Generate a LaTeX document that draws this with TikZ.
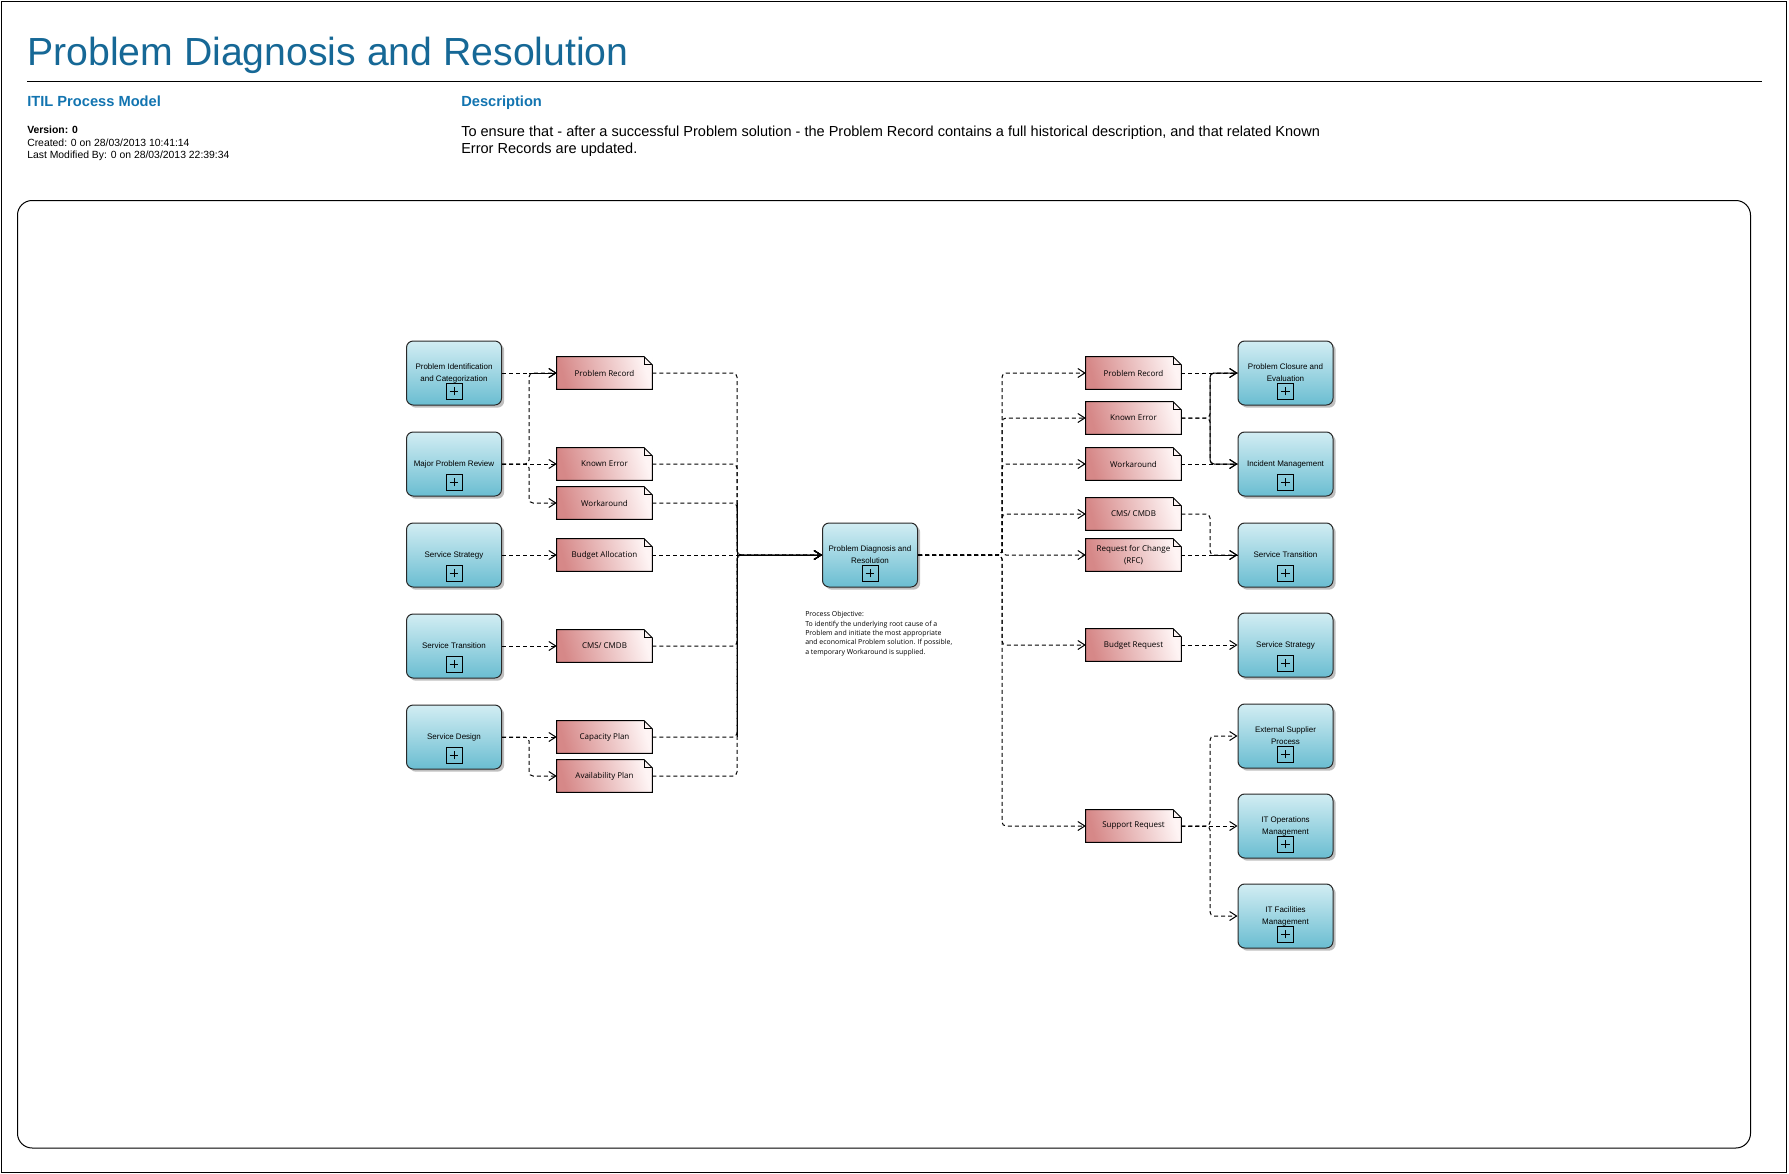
\documentclass[tikz,border=0pt]{standalone}
\usepackage{fontspec}
\setmainfont{Liberation Sans}
\newfontfamily\docfont{Open Sans}
\usetikzlibrary{positioning,arrows.meta,shadows}
\definecolor{TitleBlue}{RGB}{22,104,150}
\definecolor{HeadBlue}{RGB}{18,116,176}
\definecolor{ProcTop}{RGB}{210,237,243}
\definecolor{ProcBottom}{RGB}{106,189,209}
\definecolor{DocLeft}{RGB}{214,136,136}
\definecolor{DocRight}{RGB}{254,244,244}
\definecolor{EdgeGray}{RGB}{40,40,40}

\begin{document}
\begin{tikzpicture}[
    x=0.75pt,
    y=-0.75pt,
    >={Straight Barb[length=5.25pt,width=6.75pt]},
    proc/.style={
        draw=EdgeGray,
        line width=0.75pt,
        rounded corners=5pt,
        align=center,
        font=\fontsize{6}{9}\selectfont,
        minimum width=71.25pt,
        minimum height=48pt,
        inner sep=1pt,
        top color=ProcTop,
        bottom color=ProcBottom,
        drop shadow={shadow xshift=2pt,shadow yshift=-2pt,fill=black!50,opacity=0.5}
    },
    doc/.style={
        align=center,
        font=\docfont\fontsize{6}{8.5}\selectfont,
        minimum width=71.25pt,
        minimum height=24pt,
        inner sep=1pt,
        left color=DocLeft,
        right color=DocRight,
        shading angle=105
    },
    flow/.style={
        ->,
        line width=0.75pt,
        dash pattern=on 3pt off 2.25pt,
        rounded corners=3pt
    },
    trunk/.style={
        line width=0.75pt,
        rounded corners=3pt
    }
]

\useasboundingbox (0,0) rectangle (1789,1174);
\draw[line width=0.75pt] (1.5,1.5) rectangle (1786,1172);

% header
\node[anchor=base west, inner sep=0, text=TitleBlue,
    font=\fontsize{29.4}{35}\selectfont] (title) at (27,65) {Problem Diagnosis and Resolution};
\draw[line width=0.75pt] (27,81) -- (1762,81);
\node[anchor=base west, inner sep=0, text=HeadBlue,
    font=\bfseries\fontsize{11}{13}\selectfont] (model) at (27,106) {ITIL Process Model};
\node[anchor=base west, inner sep=0, text=HeadBlue,
    font=\bfseries\fontsize{11}{13}\selectfont] (deschead) at (461,106) {Description};
\node[anchor=north west, inner sep=0, align=left,
    font=\fontsize{7.8}{9.4}\selectfont] (meta) at (27,126)
{\textbf{Version: 0}\\Created: 0 on 28/03/2013 10:41:14\\Last Modified By: 0 on 28/03/2013 22:39:34};
\node[anchor=north west, inner sep=0, align=left,
    font=\fontsize{10.9}{13.1}\selectfont] (desc) at (461,125.5)
{To ensure that - after a successful Problem solution - the Problem Record contains a full historical description, and that related Known\\Error Records are updated.};

% canvas
\draw[line width=0.75pt, rounded corners=11pt] (17.5,200.5) rectangle (1750.5,1148);

% left processes
\node[proc] (pid) at (454,373) {Problem Identification\\and Categorization};
\node[proc] (mpr) at (454,464) {Major Problem Review};
\node[proc] (sstr) at (454,555) {Service Strategy};
\node[proc] (strn) at (454,646) {Service Transition};
\node[proc] (sdes) at (454,737) {Service Design};

% left documents
\node[doc] (lpr) at (604.5,373) {Problem Record};
\node[doc] (lke) at (604.5,464) {Known Error};
\node[doc] (lwa) at (604.5,503) {Workaround};
\node[doc] (lba) at (604.5,555) {Budget Allocation};
\node[doc] (lcms) at (604.5,646) {CMS/ CMDB};
\node[doc] (lcap) at (604.5,737) {Capacity Plan};
\node[doc] (lav) at (604.5,776) {Availability Plan};

% central process
\node[proc] (pdr) at (870,555) {Problem Diagnosis and\\Resolution};
\node[anchor=north west, inner sep=0, align=left,
    font=\docfont\fontsize{5.2}{7.1}\selectfont] (obj) at (805,611)
{Process Objective:\\To identify the underlying root cause of a\\Problem and initiate the most appropriate\\and economical Problem solution. If possible,\\a temporary Workaround is supplied.};

% right documents
\node[doc] (rpr) at (1133.5,373) {Problem Record};
\node[doc] (rke) at (1133.5,418) {Known Error};
\node[doc] (rwa) at (1133.5,464) {Workaround};
\node[doc] (rcms) at (1133.5,514) {CMS/ CMDB};
\node[doc] (rrfc) at (1133.5,555) {Request for Change\\(RFC)};
\node[doc] (rbr) at (1133.5,645) {Budget Request};
\node[doc] (rsr) at (1133.5,826) {Support Request};

% right processes
\node[proc] (pce) at (1285.5,373) {Problem Closure and\\Evaluation};
\node[proc] (inc) at (1285.5,464) {Incident Management};
\node[proc] (rstr) at (1285.5,555) {Service Transition};
\node[proc] (rsst) at (1285.5,645) {Service Strategy};
\node[proc] (esp) at (1285.5,736) {External Supplier\\Process};
\node[proc] (itom) at (1285.5,826) {IT Operations\\Management};
\node[proc] (itfm) at (1285.5,916) {IT Facilities\\Management};

% folded corners and plus marks
\foreach \d in {lpr,lke,lwa,lba,lcms,lcap,lav,rpr,rke,rwa,rcms,rrfc,rbr,rsr}{
    \fill[white] ([xshift=-6pt]\d.north east) -- (\d.north east) -- ([yshift=-6pt]\d.north east) -- cycle;
    \draw[line width=0.75pt] (\d.south west) -- (\d.north west) -- ([xshift=-6pt]\d.north east)
        -- ([yshift=-6pt]\d.north east) -- (\d.south east) -- cycle;
    \draw[line width=0.75pt] ([xshift=-6pt]\d.north east) |- ([yshift=-6pt]\d.north east);
}
\foreach \b in {pid,mpr,sstr,strn,sdes,pdr,pce,inc,rstr,rsst,esp,itom,itfm}{
    \draw[line width=0.75pt] ([yshift=-13.5pt]\b.center) +(-6pt,-6pt) rectangle +(6pt,6pt)
        +(-3.2pt,0) -- +(3.2pt,0) +(0,-3.2pt) -- +(0,3.2pt);
}

% junction lines
\coordinate (ljoin) at (529,0);
\coordinate (lbus) at (737,0);
\coordinate (rbus) at (1002,0);
\coordinate (rjoin) at (1210,0);

% inputs
\draw[flow] (pid.east) -- (pid.east -| lpr.west);
\draw[flow] (mpr.east) -- (mpr.east -| ljoin) |- (lpr.west);
\draw[flow] (mpr.east) -- (mpr.east -| lke.west);
\draw[flow] (mpr.east) -- (mpr.east -| ljoin) |- (lwa.west);
\draw[flow] (sstr.east) -- (sstr.east -| lba.west);
\draw[flow] (strn.east) -- (strn.east -| lcms.west);
\draw[flow] (sdes.east) -- (sdes.east -| lcap.west);
\draw[flow] (sdes.east) -- (sdes.east -| ljoin) |- (lav.west);

\foreach \d in {lpr,lke,lwa,lcms,lcap,lav}{
    \draw[flow] (\d.east) -- (\d.east -| lbus) |- (pdr.west);
}
\draw[flow] (lba.east) -- (lba.east -| pdr.west);
\draw[trunk] (ljoin |- lpr.west) -- (lpr.west);
\draw[trunk] (lbus |- lwa.east) -- (lbus |- lcap.east);
\draw[trunk,->] (lbus |- pdr.west) -- (pdr.west);

% outputs
\foreach \d in {rpr,rke,rwa,rcms,rrfc,rbr,rsr}{
    \draw[flow] (pdr.east) -- (pdr.east -| rbus) |- (\d.west);
}
\draw[flow] (rpr.east) -- (rpr.east -| pce.west);
\draw[flow] (rke.east) -- (rke.east -| rjoin) |- (pce.west);
\draw[flow] (rke.east) -- (rke.east -| rjoin) |- (inc.west);
\draw[flow] (rwa.east) -- (rwa.east -| inc.west);
\draw[trunk] (pce.west) -| (rjoin |- rke.east) |- (inc.west);
\draw[flow] (rcms.east) -- (rcms.east -| rjoin) |- (rstr.west);
\draw[flow] (rrfc.east) -- (rrfc.east -| rstr.west);
\draw[trunk] (rjoin |- rstr.west) -- (rstr.west);
\draw[flow] (rbr.east) -- (rbr.east -| rsst.west);
\draw[flow] (rsr.east) -- (rsr.east -| rjoin) |- (esp.west);
\draw[flow] (rsr.east) -- (rsr.east -| itom.west);
\draw[flow] (rsr.east) -- (rsr.east -| rjoin) |- (itfm.west);

\end{tikzpicture}
\end{document}
